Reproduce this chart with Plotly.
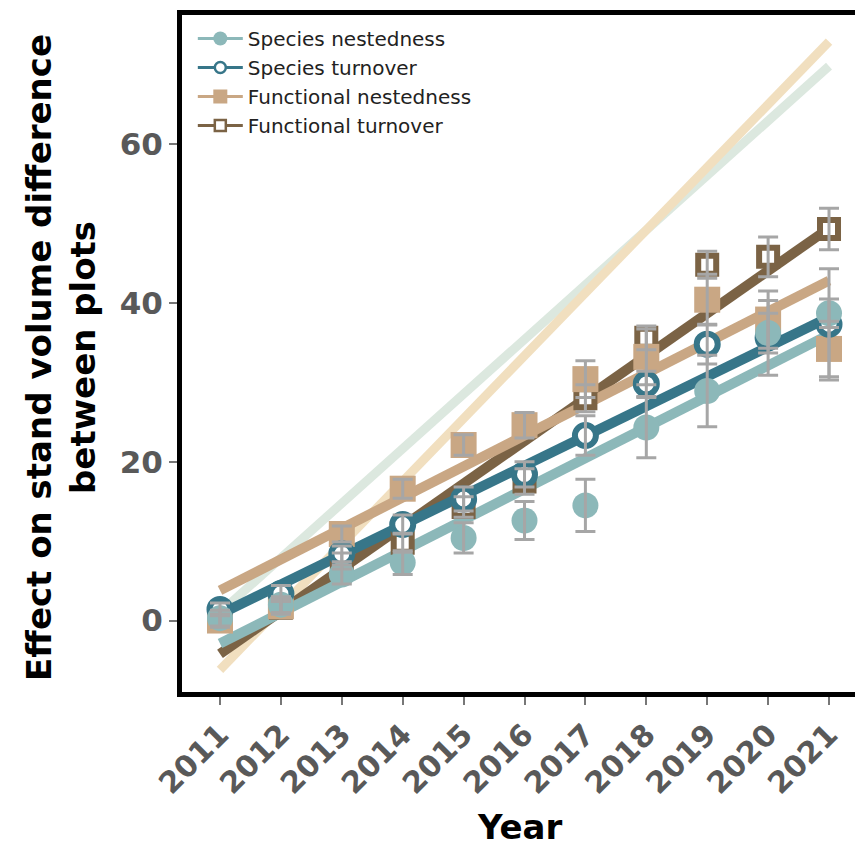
import plotly.graph_objects as go

# ---------------- data ----------------
years = [2011, 2012, 2013, 2014, 2015, 2016, 2017, 2018, 2019, 2020, 2021]
year_labels = ["2011", "2012", "2013", "2014", "2015", "2016", "2017", "2018", "2019", "2020", "2021"]

sn_vals = [0.3, 2.0, 5.8, 7.3, 10.4, 12.6, 14.5, 24.3, 28.9, 36.2, 38.7]
sn_err = [1.0, 1.0, 1.2, 1.5, 1.9, 2.4, 3.3, 3.8, 4.5, 2.5, 1.8]

st_vals = [1.4, 3.4, 8.4, 12.1, 15.3, 18.4, 23.3, 29.8, 34.8, 35.6, 37.3]
st_err = [0.8, 1.0, 1.0, 1.2, 1.5, 1.6, 2.5, 1.6, 2.5, 4.7, 7.0]

fn_vals = [0.0, 1.8, 10.9, 16.6, 22.1, 24.6, 30.4, 33.2, 40.4, 37.9, 34.2]
fn_err = [0.8, 0.9, 1.0, 1.2, 1.3, 1.6, 2.3, 3.5, 3.2, 3.6, 3.5]

ft_vals = [0.0, 1.6, 7.5, 9.8, 14.3, 17.5, 28.0, 35.6, 44.8, 45.8, 49.3]
ft_err = [0.8, 0.8, 1.0, 1.2, 1.3, 1.6, 1.7, 1.5, 1.7, 2.5, 2.6]

# fitted trend lines (values read at first and last year)
fit_years = [2011, 2021]
sn_fit = [-2.9, 36.0]
st_fit = [0.8, 38.2]
fn_fit = [3.8, 42.8]
ft_fit = [-4.2, 49.4]
faint_sage_fit = [1.0, 69.8]
faint_wheat_fit = [-6.2, 72.9]

y_ticks = [0, 20, 40, 60]

names = ["Species nestedness", "Species turnover", "Functional nestedness", "Functional turnover"]

# ---------------- styles ----------------
C_SN = "#8cb8b9"
C_ST = "#377689"
C_FN = "#c9a784"
C_FT = "#7b6345"
C_SAGE = "#dce8df"
C_WHEAT = "#f1dfbf"
C_ERR = "#a6a6a6"
TICK_GRAY = "#595959"
FONT = "DejaVu Sans, Liberation Sans, Arial, sans-serif"

fig = go.Figure()

# faint steep lines
for yv, col in [(faint_sage_fit, C_SAGE), (faint_wheat_fit, C_WHEAT)]:
    fig.add_trace(go.Scatter(x=fit_years, y=yv, mode="lines",
                             line=dict(color=col, width=9),
                             showlegend=False, hoverinfo="skip"))

# regression lines
for yv, col in [(ft_fit, C_FT), (fn_fit, C_FN), (st_fit, C_ST), (sn_fit, C_SN)]:
    fig.add_trace(go.Scatter(x=fit_years, y=yv, mode="lines",
                             line=dict(color=col, width=10),
                             showlegend=False, hoverinfo="skip"))

# markers (bottom to top: FT, FN, ST, SN)
fig.add_trace(go.Scatter(x=years, y=ft_vals, mode="markers", showlegend=False,
                         marker=dict(symbol="square", size=18, color="white",
                                     line=dict(color=C_FT, width=6))))
fig.add_trace(go.Scatter(x=years, y=fn_vals, mode="markers", showlegend=False,
                         marker=dict(symbol="square", size=26, color=C_FN,
                                     line=dict(width=0))))
fig.add_trace(go.Scatter(x=years, y=st_vals, mode="markers", showlegend=False,
                         marker=dict(symbol="circle", size=21, color="white",
                                     line=dict(color=C_ST, width=6))))
fig.add_trace(go.Scatter(x=years, y=sn_vals, mode="markers", showlegend=False,
                         marker=dict(symbol="circle", size=26, color=C_SN,
                                     line=dict(width=0))))

# error bars on top
for yv, ev in [(ft_vals, ft_err), (fn_vals, fn_err), (st_vals, st_err), (sn_vals, sn_err)]:
    fig.add_trace(go.Scatter(x=years, y=yv, mode="markers", showlegend=False,
                             hoverinfo="skip",
                             marker=dict(size=2, color="rgba(0,0,0,0)"),
                             error_y=dict(type="data", array=ev, visible=True,
                                          color=C_ERR, thickness=3, width=10)))

# legend entries
legend_specs = [
    (names[0], C_SN, dict(symbol="circle", size=14, color=C_SN, line=dict(width=0))),
    (names[1], C_ST, dict(symbol="circle", size=11, color="white", line=dict(color=C_ST, width=2.5))),
    (names[2], C_FN, dict(symbol="square", size=14, color=C_FN, line=dict(width=0))),
    (names[3], C_FT, dict(symbol="square", size=11, color="white", line=dict(color=C_FT, width=2.5))),
]
for nm, col, mk in legend_specs:
    fig.add_trace(go.Scatter(x=[None], y=[None], mode="lines+markers", name=nm,
                             line=dict(color=col, width=3), marker=mk))

axis_common = dict(showline=True, linewidth=5, linecolor="black", mirror=True,
                   showgrid=False, zeroline=False, ticks="outside", ticklen=8,
                   tickwidth=2, tickcolor="#777777")

fig.update_layout(
    width=863, height=850,
    margin=dict(l=174, r=13, t=2, b=166),
    paper_bgcolor="white", plot_bgcolor="white",
    font=dict(family=FONT),
    xaxis=dict(range=[2010.376, 2021.476], tickmode="array", tickvals=years,
               ticktext=year_labels, tickangle=-45,
               tickfont=dict(family=FONT, size=30, color=TICK_GRAY, weight="bold"),
               **axis_common),
    yaxis=dict(range=[-9.0, 76.25], tickmode="array", tickvals=y_ticks,
               ticktext=[str(v) for v in y_ticks],
               tickfont=dict(family=FONT, size=31, color=TICK_GRAY, weight="bold"),
               **axis_common),
    legend=dict(x=0.016, y=0.994, xanchor="left", yanchor="top",
                bgcolor="rgba(0,0,0,0)", borderwidth=0,
                font=dict(family=FONT, size=20, color="#222222"),
                tracegroupgap=0, itemsizing="trace", itemwidth=45),
    annotations=[
        dict(text="<b>Effect on stand volume difference<br>between plots</b>",
             xref="paper", yref="paper", x=-0.180, y=0.494,
             xanchor="center", yanchor="middle", textangle=-90, showarrow=False,
             font=dict(family=FONT, size=34, color="black")),
        dict(text="<b>Year</b>", xref="paper", yref="paper", x=0.5, y=-0.199,
             xanchor="center", yanchor="middle", showarrow=False,
             font=dict(family=FONT, size=34, color="black")),
    ],
)

fig.write_html("out.html")
